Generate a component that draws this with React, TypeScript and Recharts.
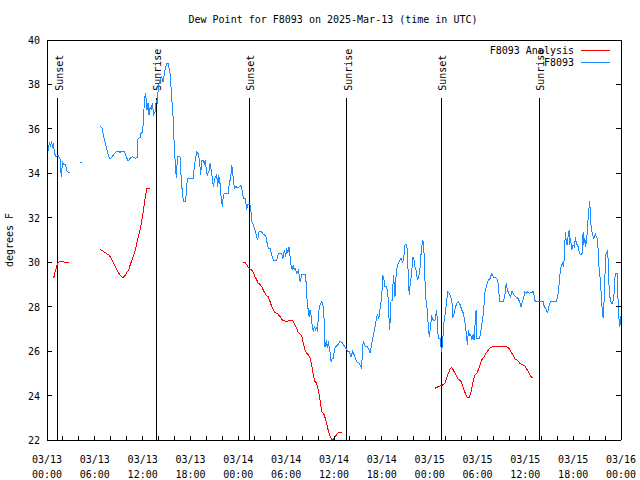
import { Line, LineChart, ReferenceLine, XAxis, YAxis } from "recharts";

const FONT = "'DejaVu Sans Mono', monospace";

const title = "Dew Point for F8093 on 2025-Mar-13 (time in UTC)";
const yLabel = "degrees F";

const seriesNames = ["F8093 Analysis", "F8093"];
const seriesColors = ["#ff0000", "#1e8cff"];

// hours since 03/13 00:00 UTC
const xTicks = [0, 2, 4, 6, 8, 10, 12, 14, 16, 18, 20, 22, 24, 26, 28, 30, 32, 34, 36, 38, 40, 42, 44, 46, 48, 50, 52, 54, 56, 58, 60, 62, 64, 66, 68, 70, 72];
const dayLabels = ["03/13", "03/14", "03/15", "03/16"];
const timeLabels = ["00:00", "06:00", "12:00", "18:00"];
const yTicks = [22, 24, 26, 28, 30, 32, 34, 36, 38, 40];

const sunHours = [1.34, 13.71, 25.34, 37.63, 49.46, 61.75];
const sunLabels = ["Sunset", "Sunrise", "Sunset", "Sunrise", "Sunset", "Sunrise"];
const sunLineTop = 37.4;

type Obs = [number, number | null];

const analysisObs: Obs[] = [
  [0.75, 29.3], [0.88, 29.35], [1.0, 29.55], [1.13, 29.7], [1.25, 29.85], [1.44, 30.0], [1.63, 30.03], [1.88, 30.03], [2.26, 30.0], [2.76, 29.98],
  [4.5, null],
  [6.69, 30.58], [7.02, 30.5], [7.44, 30.4], [7.74, 30.33], [7.94, 30.25], [8.15, 30.1], [8.37, 29.95], [8.57, 29.8], [8.78, 29.65], [9.03, 29.5],
  [9.28, 29.38], [9.53, 29.3], [9.78, 29.4], [10.04, 29.55], [10.25, 29.65], [10.45, 29.9], [10.66, 30.1], [10.95, 30.4], [11.13, 30.6], [11.29, 30.93],
  [11.63, 31.38], [11.83, 31.75], [12.04, 32.2], [12.21, 32.65], [12.42, 33.1], [12.54, 33.33], [12.96, 33.33],
  [18, null],
  [24.65, 30.0], [24.84, 29.98], [25.05, 29.88], [25.25, 29.77], [25.46, 29.7], [25.68, 29.65], [25.88, 29.55], [26.09, 29.35], [26.31, 29.2], [26.51, 29.05],
  [26.72, 29.0], [26.93, 28.9], [27.13, 28.75], [27.35, 28.6], [27.56, 28.48], [27.76, 28.45], [27.98, 28.23], [28.19, 28.0], [28.39, 27.85], [28.61, 27.73],
  [28.94, 27.68], [29.23, 27.55], [29.52, 27.4], [29.86, 27.35], [30.19, 27.35], [30.48, 27.38], [30.7, 27.4], [30.9, 27.33], [31.11, 27.18], [31.32, 27.03],
  [31.53, 26.83], [31.86, 26.73], [32.03, 26.58], [32.15, 26.35], [32.36, 26.05], [32.61, 25.9], [32.77, 25.83], [32.99, 25.7], [33.2, 25.38], [33.4, 24.93],
  [33.62, 24.63], [33.83, 24.55], [34.03, 24.25], [34.25, 23.8], [34.46, 23.28], [34.78, 23.13], [34.96, 22.9], [35.21, 22.53], [35.37, 22.3], [35.63, 22.08],
  [35.79, 22.0], [35.94, 22.02], [36.13, 22.15], [36.34, 22.25], [36.54, 22.33], [36.97, 22.33],
  [42, null],
  [48.67, 24.33], [48.96, 24.38], [49.3, 24.43], [49.64, 24.48], [49.92, 24.55], [50.14, 24.78], [50.34, 25.0], [50.55, 25.18], [50.76, 25.27], [50.96, 25.15],
  [51.18, 25.0], [51.39, 24.85], [51.59, 24.73], [51.89, 24.67], [52.09, 24.48], [52.31, 24.25], [52.56, 24.03], [52.72, 23.92], [52.97, 23.92], [53.15, 24.1],
  [53.31, 24.4], [53.48, 24.7], [53.69, 24.93], [53.9, 25.0], [54.1, 25.15], [54.31, 25.38], [54.53, 25.6], [54.82, 25.75], [55.06, 25.9], [55.35, 26.05],
  [55.65, 26.17], [55.98, 26.2], [56.61, 26.22], [57.03, 26.2], [57.45, 26.2], [57.87, 26.17], [58.08, 26.05], [58.42, 25.83], [58.71, 25.65], [59.0, 25.6],
  [59.33, 25.45], [59.67, 25.38], [59.96, 25.33], [60.17, 25.2], [60.37, 25.07], [60.58, 24.93], [60.79, 24.82], [61.0, 24.82],
];

const stationObs: Obs[] = [
  [0.06, 34.95], [0.19, 35.1], [0.31, 35.4], [0.44, 35.2], [0.56, 35.45], [0.69, 35.2], [0.82, 35.3], [0.94, 34.9], [1.13, 34.75], [1.38, 34.8],
  [1.63, 34.65], [1.79, 33.85], [1.94, 34.5], [2.13, 34.4], [2.32, 34.4], [2.45, 34.15], [2.63, 34.05], [2.89, 34.05],
  [3.5, null],
  [4.2, 34.5], [4.33, 34.5],
  [5.0, null],
  [6.69, 36.13], [6.9, 36.03], [7.11, 35.65], [7.31, 35.35], [7.53, 35.05], [7.81, 34.68], [8.03, 34.68], [8.24, 34.78], [8.49, 34.9], [8.78, 35.0],
  [9.16, 34.95], [9.41, 35.0], [9.7, 35.0], [9.91, 34.78], [10.16, 34.55], [10.45, 34.68], [10.75, 34.75], [11.08, 34.68], [11.29, 34.7], [11.42, 35.58],
  [11.67, 35.6], [11.79, 35.8], [12.0, 35.85], [12.13, 36.7], [12.21, 37.15], [12.33, 37.6], [12.46, 37.3], [12.54, 36.85], [12.67, 37.15], [12.79, 36.63],
  [12.96, 37.0], [13.08, 36.85], [13.21, 37.15], [13.38, 36.63], [13.58, 36.78], [13.71, 37.3], [13.84, 37.1], [13.96, 37.9], [14.18, 38.2], [14.39, 38.35],
  [14.55, 38.1], [14.8, 38.65], [15.01, 38.95], [15.21, 38.95], [15.43, 38.5], [15.64, 37.45], [15.84, 36.4], [15.97, 35.13], [16.1, 34.4], [16.22, 33.8],
  [16.37, 34.75], [16.68, 34.75], [16.87, 33.55], [17.1, 32.75], [17.37, 32.75], [17.5, 33.2], [17.6, 33.78], [18.36, 33.78], [18.48, 34.3], [18.78, 34.97],
  [18.94, 34.9], [19.11, 34.6], [19.28, 33.93], [19.41, 34.6], [19.61, 34.6], [19.73, 34.4], [19.86, 34.6], [19.99, 34.1], [20.11, 33.93], [20.32, 34.1],
  [20.45, 34.45], [20.61, 34.1], [20.74, 33.8], [20.86, 33.4], [21.08, 33.8], [21.29, 33.93], [21.41, 33.4], [21.54, 33.93], [21.7, 33.55], [21.83, 32.95],
  [21.99, 32.5], [22.11, 32.95], [22.24, 33.1], [22.74, 33.1], [22.87, 33.55], [23.04, 33.8], [23.17, 34.38], [23.27, 34.1], [23.37, 33.78], [23.5, 33.33],
  [23.71, 33.4], [23.96, 33.33], [24.12, 33.4], [24.3, 33.45], [24.46, 33.25], [24.63, 32.87], [24.88, 32.87], [25.05, 32.35], [25.17, 32.6], [25.34, 32.6],
  [25.53, 32.57], [25.68, 31.83], [25.88, 31.7], [26.09, 31.45], [26.31, 31.15], [26.43, 31.0], [26.6, 31.37], [26.85, 31.4], [27.14, 31.25], [27.44, 31.2],
  [27.57, 30.93], [27.77, 30.63], [27.98, 30.63], [28.19, 30.33], [28.4, 30.1], [28.82, 30.1], [29.02, 30.4], [29.45, 30.4], [29.58, 30.15], [29.78, 30.55],
  [29.93, 30.25], [30.07, 30.63], [30.2, 30.4], [30.36, 30.7], [30.49, 30.25], [30.61, 29.88], [30.77, 29.65], [30.9, 29.88], [31.02, 29.65], [31.15, 29.7],
  [31.32, 29.5], [31.53, 29.65], [31.74, 29.13], [31.95, 29.43], [32.45, 29.43], [32.58, 28.45], [32.71, 28.0], [32.87, 27.55], [33.0, 27.85], [33.12, 27.6],
  [33.28, 27.1], [33.41, 26.88], [33.53, 27.1], [33.71, 26.95], [33.83, 27.1], [33.96, 26.88], [34.03, 27.7], [34.25, 28.08], [34.46, 28.23], [34.66, 28.0],
  [34.79, 27.25], [34.87, 26.2], [35.04, 26.5], [35.16, 26.13], [35.29, 26.43], [35.5, 25.97], [35.63, 25.52], [35.79, 25.68], [35.92, 25.68], [36.04, 26.05],
  [36.21, 26.2], [36.46, 26.28], [36.75, 26.43], [36.97, 26.4], [37.17, 26.3], [37.47, 26.13], [37.72, 26.0], [37.89, 26.0], [38.14, 25.75], [38.35, 26.0],
  [38.51, 25.85], [38.7, 25.68], [38.85, 25.52], [39.18, 25.45], [39.35, 25.3], [39.48, 25.22], [39.56, 26.13], [39.68, 26.43], [39.9, 26.2], [40.18, 26.2],
  [40.31, 26.13], [40.52, 25.9], [40.74, 26.35], [40.94, 26.73], [41.15, 27.1], [41.36, 27.55], [41.49, 27.65], [41.61, 27.45], [41.78, 27.93], [41.99, 28.45],
  [42.12, 29.43], [42.28, 29.2], [42.4, 28.9], [42.62, 28.9], [42.82, 28.3], [42.95, 26.95], [43.03, 27.3], [43.16, 28.3], [43.32, 28.3], [43.45, 29.43],
  [43.57, 28.9], [43.65, 28.45], [43.78, 29.35], [43.94, 29.88], [44.19, 30.03], [44.41, 30.18], [44.62, 29.95], [44.78, 30.33], [44.91, 30.78], [45.12, 30.78],
  [45.25, 30.25], [45.32, 29.13], [45.45, 28.53], [45.53, 28.9], [45.66, 29.28], [45.78, 29.7], [45.87, 30.25], [46.03, 30.1], [46.16, 29.8], [46.28, 29.65],
  [46.37, 29.43], [46.5, 29.2], [46.66, 29.43], [46.79, 29.73], [46.91, 30.33], [47.04, 30.78], [47.16, 31.0], [47.29, 30.4], [47.41, 29.2], [47.54, 28.3],
  [47.7, 27.85], [47.83, 27.1], [47.95, 26.65], [48.04, 26.88], [48.25, 27.55], [48.45, 27.4], [48.67, 27.4], [48.88, 27.85], [48.98, 27.2], [49.08, 26.58],
  [49.3, 26.58], [49.42, 26.2], [49.51, 25.97], [49.64, 26.5], [49.8, 27.33], [49.97, 27.7], [50.14, 28.3], [50.27, 28.68], [50.47, 28.6], [50.65, 28.45],
  [50.81, 28.15], [50.9, 27.48], [51.06, 27.7], [51.19, 27.93], [51.4, 28.15], [51.6, 28.23], [51.81, 28.1], [52.03, 27.85], [52.23, 27.7], [52.44, 27.25],
  [52.57, 26.88], [52.73, 26.28], [52.86, 26.95], [53.01, 26.7], [53.16, 26.75], [53.28, 26.5], [53.45, 26.75], [53.57, 26.5], [53.7, 27.25], [53.82, 27.85],
  [53.91, 26.58], [54.2, 26.58], [54.33, 26.7], [54.54, 27.18], [54.74, 27.7], [54.87, 28.3], [54.95, 28.68], [55.17, 28.98], [55.37, 29.2], [55.58, 29.28],
  [55.79, 29.5], [56.0, 29.33], [56.43, 29.28], [56.63, 28.98], [56.76, 28.23], [57.26, 28.23], [57.47, 28.6], [57.6, 29.05], [57.76, 28.75], [57.91, 28.6],
  [58.12, 28.45], [58.33, 28.68], [58.53, 28.55], [58.74, 28.45], [59.03, 28.4], [59.28, 28.23], [59.46, 28.0], [59.62, 28.23], [59.79, 28.38], [59.91, 28.68],
  [60.12, 28.6], [60.31, 28.68], [60.54, 28.6], [61.04, 28.68], [61.17, 28.3], [61.32, 28.23], [61.88, 28.23], [62.22, 28.23], [62.38, 28.0], [62.6, 27.9],
  [62.8, 27.7], [62.93, 28.0], [63.14, 28.23], [63.89, 28.23], [64.06, 28.45], [64.18, 28.75], [64.27, 29.2], [64.4, 29.65], [64.52, 29.88], [64.65, 29.95],
  [64.81, 29.8], [64.9, 30.4], [65.03, 31.38], [65.11, 31.0], [65.24, 30.78], [65.36, 31.15], [65.49, 31.45], [65.57, 30.78], [65.66, 31.1], [65.82, 30.55],
  [65.99, 30.78], [66.16, 30.7], [66.28, 31.15], [66.41, 30.78], [66.5, 30.78], [66.62, 30.7], [66.75, 30.48], [66.91, 30.33], [67.13, 30.4], [67.25, 31.38],
  [67.33, 30.78], [67.45, 31.1], [67.58, 30.7], [67.76, 31.3], [67.83, 31.75], [67.96, 32.35], [68.08, 32.73], [68.21, 31.75], [68.38, 31.3], [68.58, 31.08],
  [68.8, 31.25], [69.01, 31.08], [69.14, 30.55], [69.21, 29.88], [69.34, 29.5], [69.51, 28.6], [69.64, 27.85], [69.77, 27.48], [69.94, 28.68], [70.06, 30.33],
  [70.27, 30.48], [70.4, 30.1], [70.48, 29.05], [70.6, 28.45], [70.78, 28.15], [70.94, 28.15], [71.11, 28.45], [71.2, 29.2], [71.32, 29.5], [71.54, 29.5],
  [71.61, 28.45], [71.74, 27.48], [71.86, 27.1], [72.0, 27.6],
];

const toRows = (obs: Obs[]) => obs.map(([t, v]) => ({ t, v }));

function BottomTick({ x, y, payload }: any) {
  const h = payload.value as number;
  return (
    <g>
      <line x1={x} y1={y} x2={x} y2={y - 4} stroke="#000" />
      {h % 6 === 0 && (
        <text textAnchor="middle" fontFamily={FONT} fontSize={10} fill="#000">
          <tspan x={x} y={y + 23}>{dayLabels[Math.floor(h / 24)]}</tspan>
          <tspan x={x} y={y + 38}>{timeLabels[(h % 24) / 6]}</tspan>
        </text>
      )}
    </g>
  );
}

function TopTick({ x, y }: any) {
  return <line x1={x} y1={y} x2={x} y2={y + 4} stroke="#000" />;
}

function LeftTick({ x, y, payload }: any) {
  return (
    <g>
      <line x1={x} y1={y} x2={x + 5} y2={y} stroke="#000" />
      <text x={x - 7} y={y + 4} textAnchor="end" fontFamily={FONT} fontSize={10} fill="#000">
        {payload.value}
      </text>
    </g>
  );
}

function RightTick({ x, y }: any) {
  return <line x1={x} y1={y} x2={x - 5} y2={y} stroke="#000" />;
}

function sunLabel(text: string) {
  return (props: any) => {
    const vb = props.viewBox || { x: 0, y: 0 };
    const x = vb.x + 5;
    const y = vb.y - 7;
    return (
      <text x={x} y={y} transform={`rotate(-90 ${x} ${y})`} fontFamily={FONT} fontSize={10} fill="#000">
        {text}
      </text>
    );
  };
}

export default function App() {
  const series = [toRows(analysisObs), toRows(stationObs)];
  return (
    <div style={{ position: "relative", width: 640, height: 480, background: "#fff" }}>
      <style>{"body{margin:0} svg line, svg path { shape-rendering: crispEdges; }"}</style>
      <LineChart width={640} height={480} margin={{ top: 39, right: 18, bottom: 0, left: 0 }}>
        <XAxis
          dataKey="t"
          type="number"
          domain={[0, 72]}
          ticks={xTicks}
          interval={0}
          tick={<BottomTick />}
          tickLine={false}
          tickSize={0}
          tickMargin={0}
          height={40}
          axisLine={{ stroke: "#000" }}
          allowDataOverflow
        />
        <XAxis
          xAxisId="top"
          orientation="top"
          type="number"
          domain={[0, 72]}
          ticks={xTicks}
          interval={0}
          tick={<TopTick />}
          tickLine={false}
          tickSize={0}
          tickMargin={0}
          height={1}
          axisLine={{ stroke: "#000" }}
          allowDataOverflow
        />
        <YAxis
          type="number"
          domain={[22, 40]}
          ticks={yTicks}
          interval={0}
          tick={<LeftTick />}
          tickLine={false}
          tickSize={0}
          tickMargin={0}
          width={47}
          axisLine={{ stroke: "#000" }}
          allowDataOverflow
        />
        <YAxis
          yAxisId="right"
          orientation="right"
          type="number"
          domain={[22, 40]}
          ticks={yTicks}
          interval={0}
          tick={<RightTick />}
          tickLine={false}
          tickSize={0}
          tickMargin={0}
          width={1}
          axisLine={{ stroke: "#000" }}
          allowDataOverflow
        />
        {sunHours.map((h, i) => (
          <ReferenceLine
            key={i}
            segment={[
              { x: h, y: 22 },
              { x: h, y: sunLineTop },
            ]}
            stroke="#000"
            strokeWidth={1}
            label={sunLabel(sunLabels[i])}
          />
        ))}
        {series.map((rows, i) => (
          <Line
            key={seriesNames[i]}
            data={rows}
            dataKey="v"
            name={seriesNames[i]}
            stroke={seriesColors[i]}
            strokeWidth={1}
            dot={false}
            activeDot={false}
            connectNulls={false}
            isAnimationActive={false}
          />
        ))}
      </LineChart>
      <svg width={640} height={480} style={{ position: "absolute", left: 0, top: 0, pointerEvents: "none" }}>
        <text x={333} y={23} textAnchor="middle" fontFamily={FONT} fontSize={10} fill="#000">
          {title}
        </text>
        <text x={13} y={240} textAnchor="middle" transform="rotate(-90 13 240)" fontFamily={FONT} fontSize={10} fill="#000">
          {yLabel}
        </text>
        {seriesNames.map((name, i) => (
          <g key={name}>
            <text x={574} y={53.5 + i * 12.5} textAnchor="end" fontFamily={FONT} fontSize={10} fill="#000">
              {name}
            </text>
            <line x1={581} y1={50 + i * 12.5} x2={610} y2={50 + i * 12.5} stroke={seriesColors[i]} />
          </g>
        ))}
      </svg>
    </div>
  );
}
